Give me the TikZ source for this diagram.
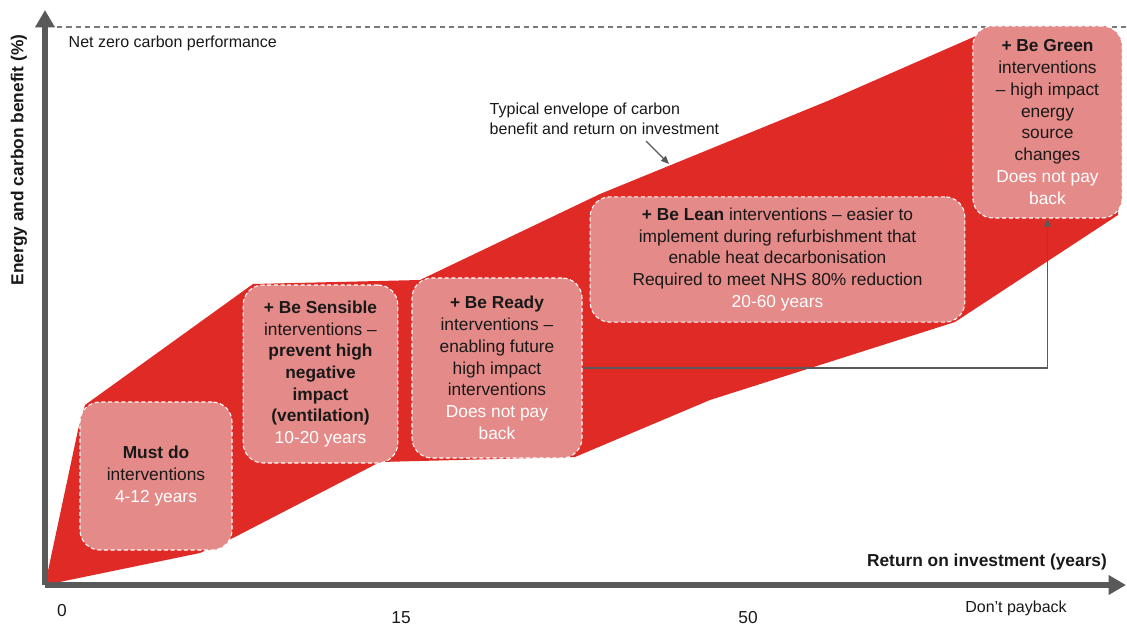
\documentclass[tikz,border=0pt]{standalone}
\usepackage{fontspec}
\setmainfont{Liberation Sans}
\usetikzlibrary{arrows.meta, positioning}
\definecolor{envred}{RGB}{224, 42, 38}
\definecolor{boxpink}{RGB}{228, 138, 136}
\definecolor{axisgrey}{RGB}{89, 89, 89}
\definecolor{textdark}{RGB}{25, 25, 25}
\newcommand{\payback}[1]{\textcolor{white}{#1}}

\begin{document}
\begin{tikzpicture}[
        x=0.75pt, y=-0.75pt,
        stage/.style={rounded corners=15pt, fill=boxpink, draw=white, dash pattern=on 3pt off 2pt, line width=0.8pt, align=center, inner sep=0pt, text=textdark, font=\fontsize{13}{16.3}\selectfont},
        axis/.style={axisgrey, line width=4.5pt, -{Triangle[length=13pt, width=14pt]}},
        link/.style={axisgrey, line width=1pt, -{Triangle[length=6pt, width=5pt]}},
        note/.style={text=textdark, font=\fontsize{12}{15}\selectfont}
    ]
        \useasboundingbox (0,0) rectangle (1127,627);

        % envelope of carbon benefit vs return
        \fill[envred] (45,585) -- (78,430) -- (85,405) -- (253,284) -- (420,280) -- (600,194)
            -- (830,100) -- (985,32) -- (1110,28) -- (1121,40) -- (1118,215) -- (955,322)
            -- (710,400) -- (575,457) -- (380,462) -- (233,538) -- (200,553) -- cycle;

        % net zero line
        \coordinate (nz1) at (57,27);
        \coordinate (nz2) at (1127,27);
        \draw[dash pattern=on 4pt off 3pt, axisgrey!80, line width=0.8pt] (nz1) -- (nz2);
        \node[note, anchor=west] (netzero) at (64,43) {Net zero carbon performance};

        % axes
        \coordinate (origin) at (45,585);
        \coordinate (ytip) at (45,10);
        \coordinate (xtip) at (1126,585);
        \draw[axis] (origin) -- (ytip);
        \draw[axis] (origin) -- (xtip);
        \node[rotate=90, text=textdark, font=\bfseries\fontsize{13}{16}\selectfont] (ylabel) at (19,160) {Energy and carbon benefit (\%)};
        \node[text=textdark, font=\bfseries\fontsize{13}{16}\selectfont] (xlabel) at (987,562) {Return on investment (years)};

        \node[text=textdark, font=\fontsize{13}{16}\selectfont] (t0) at (62,611) {0};
        \node[text=textdark, font=\fontsize{13}{16}\selectfont] (t15) at (401,618) {15};
        \node[text=textdark, font=\fontsize{13}{16}\selectfont] (t50) at (748,618) {50};
        \node[note] (never) at (1016,608) {Don’t payback};

        % intervention stages
        \node[stage, minimum width=114pt, minimum height=111pt] (must) at (156,476)
            {\textbf{Must do}\\interventions\\\payback{4-12 years}};
        \node[stage, minimum width=116pt, minimum height=133.5pt] (sensible) at (320.5,374)
            {\textbf{+ Be Sensible}\\interventions --\\\textbf{prevent high}\\\textbf{negative}\\\textbf{impact}\\\textbf{(ventilation)}\\\payback{10-20 years}};
        \node[stage, minimum width=127.5pt, minimum height=135pt] (ready) at (497,368)
            {\textbf{+ Be Ready}\\interventions --\\enabling future\\high impact\\interventions\\\payback{Does not pay}\\\payback{back}};
        \node[stage, minimum width=281pt, minimum height=94pt] (lean) at (777.5,259.5)
            {\textbf{+ Be Lean} interventions -- easier to\\implement during refurbishment that\\enable heat decarbonisation\\Required to meet NHS 80\% reduction\\\payback{20-60 years}};
        \node[stage, minimum width=112pt, minimum height=144pt] (green) at (1047.5,122)
            {\textbf{+ Be Green}\\interventions\\-- high impact\\energy\\source\\changes\\\payback{Does not pay}\\\payback{back}};

        \draw[link] (ready.east) -| (green.south);

        % envelope annotation
        \node[note, anchor=west, align=left] (envnote) at (485,119)
            {Typical envelope of carbon\\benefit and return on investment};
        \coordinate (envfrom) at (646,141);
        \coordinate (envto) at (669,164);
        \draw[link] (envfrom) -- (envto);
\end{tikzpicture}
\end{document}
